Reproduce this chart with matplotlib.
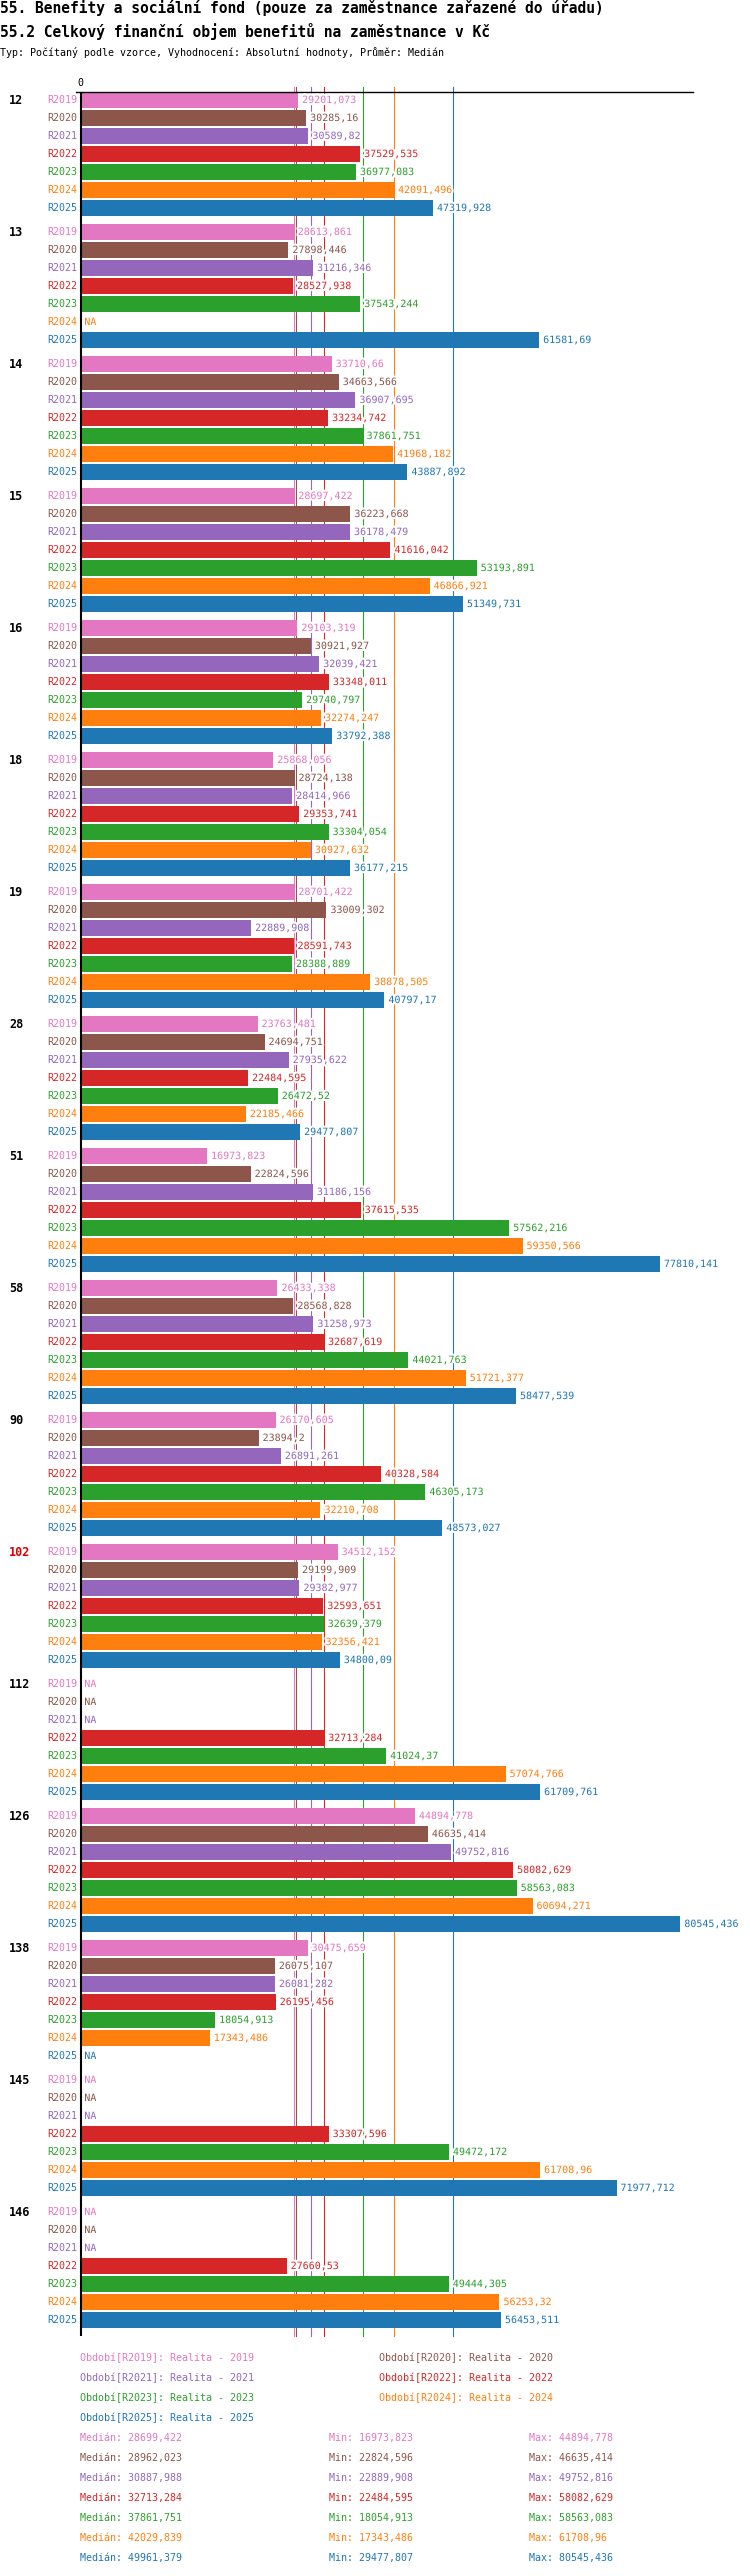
import numpy as np
import matplotlib
matplotlib.use('Agg')
import matplotlib.pyplot as plt
import matplotlib.patheffects as pe

nan = np.nan

# groups (rows of the chart) and series
groups = ['12', '13', '14', '15', '16', '18', '19', '28', '51', '58', '90',
          '102', '112', '126', '138', '145', '146']
highlight = '102'
series = ['R2019', 'R2020', 'R2021', 'R2022', 'R2023', 'R2024', 'R2025']
colors = ['#e377c2', '#8c564b', '#9467bd', '#d62728', '#2ca02c', '#ff7f0e', '#1f77b4']

r2019 = [29201.073, 28613.861, 33710.66, 28697.422, 29103.319, 25868.056, 28701.422,
         23763.481, 16973.823, 26433.338, 26170.605, 34512.152, nan, 44894.778,
         30475.659, nan, nan]
r2020 = [30285.16, 27898.446, 34663.566, 36223.668, 30921.927, 28724.138, 33009.302,
         24694.751, 22824.596, 28568.828, 23894.2, 29199.909, nan, 46635.414,
         26075.107, nan, nan]
r2021 = [30589.82, 31216.346, 36907.695, 36178.479, 32039.421, 28414.966, 22889.908,
         27935.622, 31186.156, 31258.973, 26891.261, 29382.977, nan, 49752.816,
         26081.282, nan, nan]
r2022 = [37529.535, 28527.938, 33234.742, 41616.042, 33348.011, 29353.741, 28591.743,
         22484.595, 37615.535, 32687.619, 40328.584, 32593.651, 32713.284, 58082.629,
         26195.456, 33307.596, 27660.53]
r2023 = [36977.083, 37543.244, 37861.751, 53193.891, 29740.797, 33304.054, 28388.889,
         26472.52, 57562.216, 44021.763, 46305.173, 32639.379, 41024.37, 58563.083,
         18054.913, 49472.172, 49444.305]
r2024 = [42091.496, nan, 41968.182, 46866.921, 32274.247, 30927.632, 38878.505,
         22185.466, 59350.566, 51721.377, 32210.708, 32356.421, 57074.766, 60694.271,
         17343.486, 61708.96, 56253.32]
r2025 = [47319.928, 61581.69, 43887.892, 51349.731, 33792.388, 36177.215, 40797.17,
         29477.807, 77810.141, 58477.539, 48573.027, 34800.09, 61709.761, 80545.436,
         nan, 71977.712, 56453.511]
data = [r2019, r2020, r2021, r2022, r2023, r2024, r2025]

legend_names = ['Období[%s]: Realita - %s' % (s, s[1:]) for s in series]

title1 = '55. Benefity a sociální fond (pouze za zaměstnance zařazené do úřadu)'
title2 = '55.2 Celkový finanční objem benefitů na zaměstnance v Kč'
subtitle = 'Typ: Počítaný podle vzorce, Vyhodnocení: Absolutní hodnoty, Průměr: Medián'


def fmt(v):
    s = ('%.3f' % v).rstrip('0').rstrip('.')
    return s.replace('.', ',')


plt.rcParams['font.family'] = ['DejaVu Sans Mono']

W, H = 750, 2576
fig = plt.figure(figsize=(W / 100, H / 100), dpi=100)

# layout in pixels
top_px, bot_px = 92.3, 2336
left_px, right_px = 76, 693
zero_px = 80.7
px_per_unit = 0.007444
row_px, bar_px, group_px = 18, 16, 132
first_center = 100

ax = fig.add_axes([left_px / W, 1 - bot_px / H, (right_px - left_px) / W,
                   (bot_px - top_px) / H])
ax.set_xlim(-(zero_px - left_px) / px_per_unit, (right_px - zero_px) / px_per_unit)
ax.set_ylim(bot_px, top_px)
for s in ['left', 'right', 'bottom']:
    ax.spines[s].set_visible(False)
ax.spines['top'].set_linewidth(1.0)
ax.xaxis.tick_top()
ax.set_xticks([0])
ax.set_xticklabels(['0'], fontsize=7.2)
ax.tick_params(axis='x', length=0, pad=3)
ax.set_yticks([])

halo = [pe.withStroke(linewidth=3, foreground='white')]

ax.axvline(0, color='black', lw=1.5, zorder=4)

# median lines (behind the bars)
ext = 5.6 / (bot_px - top_px)
for i, vals in enumerate(data):
    med = np.nanmedian(vals)
    ax.axvline(med, ymin=0, ymax=1 + ext, color=colors[i], lw=0.8, zorder=1.5,
               clip_on=False)

for g, name in enumerate(groups):
    base = first_center + g * group_px
    ax.annotate(name, xy=(9, base), xycoords=('figure pixels', 'data'),
                ha='left', va='center', fontsize=8.5, fontweight='bold',
                color='#dd0000' if name == highlight else 'black')
    for i, vals in enumerate(data):
        y = base + i * row_px
        v = vals[g]
        ax.annotate(series[i], xy=(0, y), xytext=(-2.7, 0), textcoords='offset points',
                    ha='right', va='center', fontsize=7.2, color=colors[i])
        if np.isnan(v):
            ax.annotate('NA', xy=(0, y), xytext=(2.6, 0), textcoords='offset points',
                        ha='left', va='center', fontsize=7.2, color=colors[i],
                        zorder=3, path_effects=halo)
            continue
        ax.barh(y, v, height=bar_px, color=colors[i], zorder=2)
        ax.annotate(fmt(v), xy=(v, y), xytext=(2.9, 0), textcoords='offset points',
                    ha='left', va='center', fontsize=7.2, color=colors[i],
                    zorder=3, path_effects=halo)

# titles
fig.text(0.5 / W, 1 - 8.5 / H, title1, fontsize=10.5, fontweight='bold', va='center')
fig.text(0.5 / W, 1 - 31 / H, title2, fontsize=10.5, fontweight='bold', va='center')
fig.text(0.5 / W, 1 - 52 / H, subtitle, fontsize=7.2, va='center')

# legend
leg_x = [80, 379]
for i, lab in enumerate(legend_names):
    fig.text(leg_x[i % 2] / W, 1 - (2358 + 20 * (i // 2)) / H, lab, fontsize=7.2,
             color=colors[i], va='center')

# statistics
for i, vals in enumerate(data):
    y = 1 - (2438 + 20 * i) / H
    fig.text(80 / W, y, 'Medián: ' + fmt(np.nanmedian(vals)), fontsize=7.2,
             color=colors[i], va='center')
    fig.text(329 / W, y, 'Min: ' + fmt(np.nanmin(vals)), fontsize=7.2,
             color=colors[i], va='center')
    fig.text(529 / W, y, 'Max: ' + fmt(np.nanmax(vals)), fontsize=7.2,
             color=colors[i], va='center')

fig.savefig('out.png', dpi=100)
